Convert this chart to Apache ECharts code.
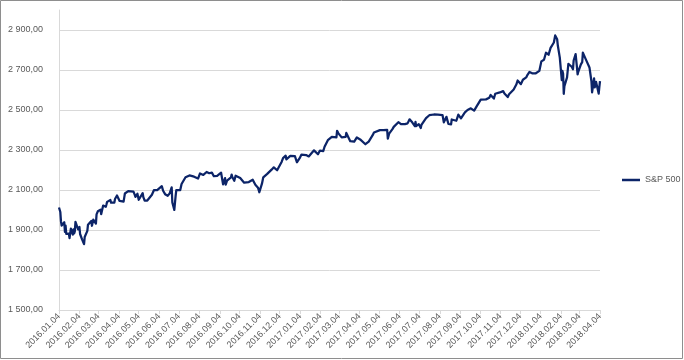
<!DOCTYPE html>
<html>
<head>
<meta charset="utf-8">
<script src="https://cdn.jsdelivr.net/npm/echarts@6/dist/echarts.min.js"></script>
<style>
html,body{margin:0;padding:0;background:#fff;}
#chart{width:684px;height:360px;}
</style>
</head>
<body>
<div id="chart"></div>
<script>
// ---- data ----
var seriesName = 'S&P 500';
var dates = [
'2016-01-04','2016-01-05','2016-01-06','2016-01-07','2016-01-08','2016-01-11','2016-01-12','2016-01-13','2016-01-14','2016-01-15',
'2016-01-19','2016-01-20','2016-01-21','2016-01-22','2016-01-25','2016-01-26','2016-01-27','2016-01-28','2016-01-29','2016-02-01',
'2016-02-02','2016-02-03','2016-02-04','2016-02-05','2016-02-08','2016-02-09','2016-02-10','2016-02-11','2016-02-12','2016-02-16',
'2016-02-17','2016-02-18','2016-02-19','2016-02-22','2016-02-23','2016-02-24','2016-02-25','2016-02-26','2016-02-29','2016-03-01',
'2016-03-02','2016-03-03','2016-03-04','2016-03-07','2016-03-08','2016-03-09','2016-03-10','2016-03-11','2016-03-14','2016-03-15',
'2016-03-16','2016-03-17','2016-03-18','2016-03-22','2016-03-23','2016-03-24','2016-03-28','2016-03-29','2016-03-31','2016-04-01',
'2016-04-05','2016-04-07','2016-04-08','2016-04-11','2016-04-12','2016-04-13','2016-04-15','2016-04-18','2016-04-20','2016-04-21',
'2016-04-22','2016-04-26','2016-04-28','2016-04-29','2016-05-02','2016-05-04','2016-05-06','2016-05-10','2016-05-11','2016-05-13',
'2016-05-17','2016-05-19','2016-05-20','2016-05-24','2016-05-27','2016-06-01','2016-06-03','2016-06-08','2016-06-10','2016-06-13',
'2016-06-15','2016-06-16','2016-06-17','2016-06-20','2016-06-23','2016-06-24','2016-06-27','2016-06-28','2016-06-29','2016-06-30',
'2016-07-01','2016-07-06','2016-07-07','2016-07-08','2016-07-11','2016-07-14','2016-07-15','2016-07-20','2016-07-22','2016-07-27',
'2016-07-29','2016-08-02','2016-08-05','2016-08-10','2016-08-12','2016-08-15','2016-08-17','2016-08-19','2016-08-23','2016-08-26',
'2016-08-31','2016-09-02','2016-09-06','2016-09-08','2016-09-09','2016-09-12','2016-09-13','2016-09-15','2016-09-16','2016-09-21',
'2016-09-22','2016-09-23','2016-09-26','2016-09-28','2016-09-30','2016-10-05','2016-10-07','2016-10-11','2016-10-13','2016-10-14',
'2016-10-18','2016-10-21','2016-10-24','2016-10-28','2016-11-01','2016-11-03','2016-11-04','2016-11-07','2016-11-08','2016-11-09',
'2016-11-11','2016-11-15','2016-11-18','2016-11-22','2016-11-25','2016-11-30','2016-12-01','2016-12-02','2016-12-07','2016-12-09',
'2016-12-13','2016-12-14','2016-12-16','2016-12-20','2016-12-23','2016-12-27','2016-12-30',
'2017-01-03','2017-01-06','2017-01-09','2017-01-13','2017-01-17','2017-01-20','2017-01-25','2017-01-27','2017-01-31','2017-02-03',
'2017-02-08','2017-02-10','2017-02-15','2017-02-17','2017-02-21','2017-02-24','2017-02-28','2017-03-01','2017-03-03','2017-03-08',
'2017-03-10','2017-03-14','2017-03-15','2017-03-17','2017-03-21','2017-03-24','2017-03-27','2017-03-31','2017-04-05','2017-04-07',
'2017-04-13','2017-04-18','2017-04-21','2017-04-24','2017-04-26','2017-04-28','2017-05-05','2017-05-10','2017-05-12','2017-05-16',
'2017-05-17','2017-05-19','2017-05-24','2017-05-26','2017-06-02','2017-06-06','2017-06-09','2017-06-12','2017-06-16','2017-06-19',
'2017-06-23','2017-06-27','2017-06-28','2017-06-29','2017-07-03','2017-07-06','2017-07-07','2017-07-14','2017-07-19','2017-07-21',
'2017-07-26','2017-07-28','2017-08-01','2017-08-04','2017-08-08','2017-08-10','2017-08-11','2017-08-14','2017-08-17','2017-08-18',
'2017-08-21','2017-08-22','2017-08-25','2017-08-29','2017-09-01','2017-09-05','2017-09-08','2017-09-11','2017-09-15','2017-09-20',
'2017-09-22','2017-09-25','2017-09-29','2017-10-05','2017-10-06','2017-10-13','2017-10-18','2017-10-20','2017-10-25','2017-10-27',
'2017-11-03','2017-11-08','2017-11-10','2017-11-15','2017-11-17','2017-11-24','2017-11-28','2017-11-30','2017-12-01','2017-12-05',
'2017-12-08','2017-12-13','2017-12-15','2017-12-18','2017-12-22','2017-12-27','2017-12-29',
'2018-01-02','2018-01-05','2018-01-09','2018-01-12','2018-01-16','2018-01-19','2018-01-24','2018-01-26','2018-01-29','2018-01-30',
'2018-02-01','2018-02-02','2018-02-05','2018-02-06','2018-02-07','2018-02-08','2018-02-09','2018-02-13','2018-02-15','2018-02-16',
'2018-02-20','2018-02-22','2018-02-23','2018-02-26','2018-02-28','2018-03-01','2018-03-02','2018-03-06','2018-03-08','2018-03-09',
'2018-03-12','2018-03-14','2018-03-16','2018-03-19','2018-03-21','2018-03-22','2018-03-23','2018-03-26','2018-03-27','2018-03-28',
'2018-03-29','2018-04-02','2018-04-03','2018-04-04'
];
var values = [
2012.66,2016.71,1990.26,1943.09,1922.03,1923.67,1938.68,1890.28,1921.84,1880.33,
1881.33,1859.33,1868.99,1906.90,1877.08,1903.63,1882.95,1893.36,1940.24,1939.38,
1903.03,1912.53,1915.45,1880.05,1853.44,1852.21,1851.86,1829.08,1864.78,1895.58,
1926.82,1917.83,1917.78,1945.50,1921.27,1929.80,1951.70,1948.05,1932.23,1978.35,
1986.45,1993.40,1999.99,2001.76,1979.26,1989.26,1989.57,2022.19,2019.64,2015.93,
2027.22,2040.59,2049.58,2049.80,2036.71,2035.94,2037.05,2055.01,2059.74,2072.78,
2045.17,2041.91,2047.60,2041.99,2061.72,2082.42,2080.73,2094.34,2102.40,2091.48,
2091.58,2091.70,2075.81,2065.30,2081.43,2051.12,2057.14,2084.39,2064.46,2046.61,
2047.21,2040.04,2052.32,2076.06,2099.06,2099.33,2099.13,2119.12,2096.07,2079.06,
2071.50,2077.99,2071.22,2083.25,2113.32,2037.41,2000.54,2036.09,2070.77,2098.86,
2102.95,2099.73,2097.90,2129.90,2137.16,2163.75,2161.74,2173.02,2175.03,2166.58,
2173.60,2157.03,2182.87,2175.49,2184.05,2190.15,2182.22,2183.87,2186.90,2169.04,
2170.95,2179.98,2186.48,2181.30,2127.81,2159.04,2127.02,2147.26,2139.16,2163.12,
2177.18,2164.69,2146.10,2171.37,2168.27,2159.73,2153.74,2136.73,2132.55,2132.98,
2139.60,2141.16,2151.33,2126.41,2111.72,2088.66,2085.18,2131.52,2139.56,2163.26,
2164.45,2180.39,2181.90,2202.94,2213.35,2198.81,2191.08,2191.95,2241.35,2259.53,
2271.72,2253.28,2258.07,2270.76,2263.79,2268.88,2238.83,
2257.83,2276.98,2268.90,2274.64,2267.89,2271.31,2298.37,2294.69,2278.87,2297.42,
2294.67,2316.10,2349.25,2351.16,2365.38,2367.34,2363.64,2395.96,2383.12,2362.98,
2372.60,2365.45,2385.26,2378.25,2344.02,2343.98,2341.59,2362.72,2352.95,2355.54,
2328.95,2342.19,2348.69,2374.15,2387.45,2384.20,2399.29,2399.63,2390.90,2400.67,
2357.03,2381.73,2404.39,2415.82,2439.07,2429.33,2431.77,2429.39,2433.15,2453.46,
2438.30,2419.38,2440.69,2419.70,2429.01,2409.75,2425.18,2459.27,2473.83,2472.54,
2477.57,2472.10,2476.35,2476.83,2474.92,2438.21,2441.32,2465.84,2430.01,2425.55,
2428.37,2452.51,2443.05,2446.30,2476.55,2457.85,2461.43,2488.11,2500.23,2508.24,
2502.22,2496.66,2519.36,2552.07,2549.33,2553.17,2561.26,2575.21,2557.15,2581.07,
2587.84,2594.38,2582.30,2564.62,2578.85,2602.42,2627.04,2647.58,2642.22,2629.27,
2651.50,2662.85,2675.81,2690.16,2683.34,2682.62,2673.61,
2695.81,2743.15,2751.29,2786.24,2776.42,2810.30,2837.54,2872.87,2853.53,2822.43,
2821.98,2762.13,2648.94,2695.14,2681.66,2581.00,2619.55,2662.94,2731.20,2732.22,
2716.26,2703.96,2747.30,2779.60,2713.83,2677.67,2691.25,2728.12,2738.97,2786.57,
2783.02,2749.48,2752.01,2712.92,2711.93,2643.69,2588.26,2658.55,2612.62,2605.00,
2640.87,2581.88,2614.45,2644.69
];
var xTickDates = [
'2016-01-04','2016-02-04','2016-03-04','2016-04-04','2016-05-04','2016-06-04','2016-07-04','2016-08-04','2016-09-04','2016-10-04',
'2016-11-04','2016-12-04','2017-01-04','2017-02-04','2017-03-04','2017-04-04','2017-05-04','2017-06-04','2017-07-04','2017-08-04',
'2017-09-04','2017-10-04','2017-11-04','2017-12-04','2018-01-04','2018-02-04','2018-03-04','2018-04-04'
];
var yTicks = [1500, 1700, 1900, 2100, 2300, 2500, 2700, 2900];
var yMin = 1500, yMax = 3000;

// ---- helpers ----
function toTs(s) {
  var p = s.split('-');
  return Date.UTC(+p[0], +p[1] - 1, +p[2]);
}
function fmtDate(v) {
  var d = new Date(v);
  var m = d.getUTCMonth() + 1, day = d.getUTCDate();
  return d.getUTCFullYear() + '.' + (m < 10 ? '0' : '') + m + '.' + (day < 10 ? '0' : '') + day;
}
function fmtNum(v) {
  var s = Math.round(v).toString();
  var out = s.replace(/\B(?=(\d{3})+(?!\d))/g, '\u00a0');
  return out + ',00';
}

var lineData = dates.map(function (d, i) { return [toTs(d), values[i]]; });
var xTicks = xTickDates.map(toTs);

var FONT = 'Liberation Sans';
var GRID_COLOR = '#d9d9d9';
var TEXT_COLOR = '#595959';
var LINE_COLOR = '#0c2468';

var chart = echarts.init(document.getElementById('chart'), null, { renderer: 'canvas' });
chart.setOption({
  animation: false,
  backgroundColor: '#ffffff',
  textStyle: { fontFamily: FONT },
  graphic: [{
    type: 'rect',
    shape: { x: 0.5, y: 0.5, width: 682, height: 358 },
    style: { fill: 'none', stroke: '#8e8e8e', lineWidth: 1 },
    silent: true,
    z: 100
  }],
  grid: { left: 59, right: 84, top: 10, bottom: 50 },
  legend: {
    orient: 'vertical',
    left: 622,
    top: 'middle',
    padding: 0,
    icon: 'rect',
    itemWidth: 18,
    itemHeight: 2.5,
    itemGap: 4,
    textStyle: { fontFamily: FONT, fontSize: 9, color: TEXT_COLOR },
    data: [seriesName]
  },
  xAxis: {
    type: 'value',
    min: xTicks[0],
    max: xTicks[xTicks.length - 1],
    axisLine: { show: true, lineStyle: { color: GRID_COLOR, width: 1 } },
    axisTick: { show: true, customValues: xTicks, length: 4, lineStyle: { color: GRID_COLOR } },
    axisLabel: {
      customValues: xTicks,
      rotate: 45,
      margin: 5,
      fontFamily: FONT,
      fontSize: 9,
      color: TEXT_COLOR,
      formatter: function (v) { return fmtDate(v); }
    },
    splitLine: { show: false }
  },
  yAxis: {
    type: 'value',
    min: yMin,
    max: yMax,
    axisLine: { show: true, lineStyle: { color: GRID_COLOR, width: 1 } },
    axisTick: { show: false },
    axisLabel: {
      customValues: yTicks,
      margin: 16,
      fontFamily: FONT,
      fontSize: 9,
      color: TEXT_COLOR,
      formatter: function (v) { return fmtNum(v); }
    },
    splitLine: { show: false }
  },
  series: [
    {
      name: 'grid',
      type: 'line',
      data: [],
      silent: true,
      z: 1,
      markLine: {
        silent: true,
        symbol: ['none', 'none'],
        label: { show: false },
        lineStyle: { color: GRID_COLOR, type: 'solid', width: 1 },
        animation: false,
        data: yTicks.map(function (t) { return { yAxis: t }; })
      }
    },
    {
      name: seriesName,
      type: 'line',
      data: lineData,
      showSymbol: false,
      symbol: 'none',
      z: 5,
      lineStyle: { color: LINE_COLOR, width: 2.25, join: 'round' },
      itemStyle: { color: LINE_COLOR }
    }
  ]
});
</script>
</body>
</html>
